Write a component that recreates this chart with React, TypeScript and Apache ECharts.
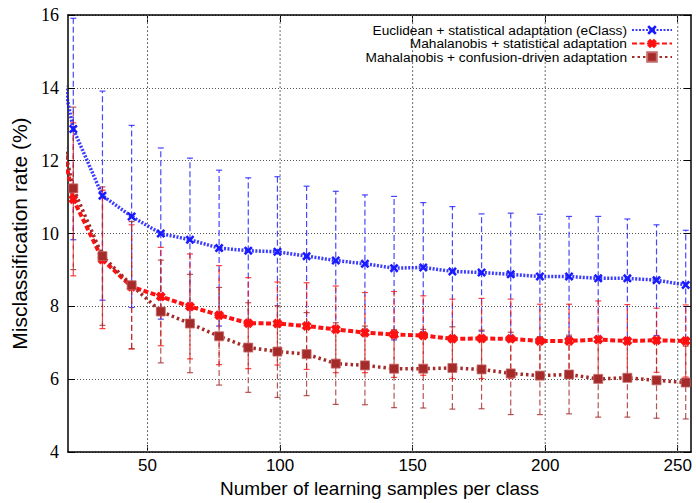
import React, { useEffect, useRef } from "react";
import * as echarts from "echarts";

// Number of learning samples per class (first point lies left of the visible range)
const samples = [11, 22, 33, 44, 55, 66, 77, 88, 99, 110, 121, 132, 143, 154, 165, 176, 187, 198, 209, 220, 231, 242, 253];
const xTicks = [50, 100, 150, 200, 250];
const yRange = [4, 16];

const seriesNames = [
  "Euclidean + statistical adaptation (eClass)",
  "Mahalanobis + statistical adaptation",
  "Mahalanobis + confusion-driven adaptation",
];

const euclidRate = [16.8, 12.87, 11.04, 10.47, 10.0, 9.83, 9.6, 9.53, 9.5, 9.38, 9.26, 9.17, 9.05, 9.07, 8.96, 8.93, 8.88, 8.82, 8.82, 8.77, 8.77, 8.72, 8.59];
const euclidStd = [null, 3.04, 2.87, 2.5, 2.35, 2.24, 2.14, 2.0, 2.06, 1.92, 1.9, 1.89, 1.97, 1.78, 1.78, 1.61, 1.68, 1.71, 1.65, 1.7, 1.63, 1.52, 1.5];

const mahaStatRate = [15.0, 10.94, 9.29, 8.54, 8.27, 8.0, 7.76, 7.54, 7.53, 7.46, 7.37, 7.28, 7.23, 7.2, 7.11, 7.12, 7.11, 7.05, 7.05, 7.09, 7.05, 7.07, 7.05];
const mahaStatStd = [null, 2.1, 1.9, 1.7, 1.35, 1.44, 1.36, 1.25, 1.14, 1.19, 1.19, 1.1, 1.18, 1.09, 1.09, 1.1, 1.09, 1.01, 1.01, 1.06, 1.0, 0.88, 0.99];

const mahaConfRate = [14.9, 11.24, 9.38, 8.58, 7.86, 7.53, 7.18, 6.87, 6.76, 6.69, 6.43, 6.38, 6.29, 6.29, 6.31, 6.27, 6.16, 6.1, 6.13, 6.01, 6.04, 5.97, 5.91];
const mahaConfStd = [null, 2.23, 1.9, 1.75, 1.41, 1.35, 1.34, 1.23, 1.26, 1.14, 1.12, 1.08, 1.07, 1.08, 1.13, 1.08, 1.13, 1.07, 1.08, 1.05, 1.08, 1.04, 1.0];

const BLUE = "#1a1aff";
const RED = "#ff1010";
const BROWN = "#a52a2a";

const X_SYMBOL = "path://M2,0 L5,3 L8,0 L10,2 L7,5 L10,8 L8,10 L5,7 L2,10 L0,8 L3,5 L0,2 Z";
const FAT_X_SYMBOL = "path://M3,0 L5,2 L7,0 L10,3 L8,5 L10,7 L7,10 L5,8 L3,10 L0,7 L2,5 L0,3 Z";

const SANS = "'Liberation Sans', Arial, Helvetica, sans-serif";
const SERIF = "'Liberation Serif', 'Times New Roman', serif";

function errData(rates: number[], stds: (number | null)[]) {
  const out: number[][] = [];
  samples.forEach((x, i) => {
    const s = stds[i];
    if (s == null) return;
    out.push([x, rates[i] - s, rates[i] + s]);
  });
  return out;
}

function errSeries(rates: number[], stds: (number | null)[], color: string, dash: number[]) {
  return {
    type: "custom",
    clip: true,
    z: 2,
    silent: true,
    encode: { x: 0, y: [1, 2] },
    data: errData(rates, stds),
    renderItem: (params: any, api: any) => {
      const x = api.value(0);
      const lo = api.value(1);
      const hi = api.value(2);
      const a = api.coord([x, lo]);
      const b = api.coord([x, hi]);
      const style = { stroke: color, lineWidth: 1.2, lineDash: dash, opacity: 0.8, fill: null };
      const capStyle = { stroke: color, lineWidth: 1.2, opacity: 0.8, fill: null };
      return {
        type: "group",
        children: [
          { type: "line", shape: { x1: a[0], y1: a[1], x2: b[0], y2: b[1] }, style },
          { type: "line", shape: { x1: a[0] - 3, y1: a[1], x2: a[0] + 3, y2: a[1] }, style: capStyle },
          { type: "line", shape: { x1: b[0] - 3, y1: b[1], x2: b[0] + 3, y2: b[1] }, style: capStyle },
        ],
      };
    },
  };
}

function gridSeries() {
  return {
    type: "custom",
    clip: true,
    z: 2,
    silent: true,
    encode: { x: 0, y: [1, 2] },
    data: xTicks.map((v) => [v, yRange[0], yRange[1]]),
    renderItem: (params: any, api: any) => {
      const v = api.value(0);
      const a = api.coord([v, api.value(1)]);
      const b = api.coord([v, api.value(2)]);
      return {
        type: "group",
        children: [
          {
            type: "line",
            shape: { x1: a[0], y1: a[1], x2: b[0], y2: b[1] },
            style: { stroke: "#666666", lineWidth: 1, lineDash: [2, 2], opacity: 1, fill: null },
          },
        ],
      };
    },
  };
}

function legendFor(name: string, top: number) {
  return {
    data: [name],
    orient: "vertical",
    align: "right",
    right: 23,
    top,
    padding: 0,
    itemWidth: 40,
    itemHeight: 12,
    selectedMode: false,
    textStyle: { fontSize: 13.7, fontFamily: SANS, color: "#000" },
  };
}

export default function App() {
  const ref = useRef<HTMLDivElement>(null);

  useEffect(() => {
    const chart = echarts.init(ref.current!, null, { renderer: "svg" });
    const axisLine = { show: true, onZero: false, lineStyle: { color: "#000", width: 1.5 } };
    const tick = { show: true, inside: true, length: 7, lineStyle: { color: "#000", width: 1 } };
    const gridLine = { color: "#555", width: 1, type: [1, 2] as any };

    const option: any = {
      animation: false,
      backgroundColor: "#fff",
      grid: { left: 68, top: 15, right: 5, bottom: 47, containLabel: false },
      legend: [legendFor(seriesNames[0], 23), legendFor(seriesNames[1], 36.5), legendFor(seriesNames[2], 50)],
      xAxis: [
        {
          type: "value",
          min: 20,
          max: 255,
          position: "bottom",
          axisLine,
          axisTick: { ...tick, customValues: xTicks },
          axisLabel: { customValues: xTicks, fontSize: 17, fontFamily: SANS, color: "#000", margin: 5 },
          splitLine: { show: false },
          name: "Number of learning samples per class",
          nameLocation: "middle",
          nameGap: 24,
          nameTextStyle: { fontSize: 19, fontFamily: SANS, color: "#000" },
        },
        {
          type: "value",
          min: 20,
          max: 255,
          position: "top",
          axisLine,
          axisTick: { ...tick, customValues: xTicks },
          axisLabel: { show: false, customValues: xTicks },
          splitLine: { show: false },
        },
      ],
      yAxis: [
        {
          type: "value",
          min: yRange[0],
          max: yRange[1],
          interval: 2,
          position: "left",
          axisLine,
          axisTick: tick,
          axisLabel: { fontSize: 18, fontFamily: SERIF, color: "#000", margin: 9 },
          splitLine: { show: true, lineStyle: gridLine },
          name: "Misclassification rate (%)",
          nameLocation: "middle",
          nameGap: 37,
          nameTextStyle: { fontSize: 21, fontFamily: SANS, color: "#000" },
        },
        {
          type: "value",
          min: yRange[0],
          max: yRange[1],
          interval: 2,
          position: "right",
          axisLine,
          axisTick: tick,
          axisLabel: { show: false },
          splitLine: { show: false },
        },
      ],
      series: [
        errSeries(euclidRate, euclidStd, BLUE, [6, 3]),
        gridSeries(),
        {
          type: "line",
          name: seriesNames[0],
          data: samples.map((x, i) => [x, euclidRate[i]]),
          z: 3,
          clip: true,
          symbol: X_SYMBOL,
          symbolSize: 9,
          showAllSymbol: true,
          itemStyle: { color: BLUE },
          lineStyle: { color: BLUE, width: 3.5, type: [2, 1.5], opacity: 0.85 },
        },
        errSeries(mahaStatRate, mahaStatStd, RED, [6, 3]),
        {
          type: "line",
          name: seriesNames[1],
          data: samples.map((x, i) => [x, mahaStatRate[i]]),
          z: 4,
          clip: true,
          symbol: FAT_X_SYMBOL,
          symbolSize: 10,
          showAllSymbol: true,
          itemStyle: { color: RED },
          lineStyle: { color: RED, width: 4, type: [5, 2.5] },
        },
        errSeries(mahaConfRate, mahaConfStd, BROWN, [6, 3]),
        {
          type: "line",
          name: seriesNames[2],
          data: samples.map((x, i) => [x, mahaConfRate[i]]),
          z: 5,
          clip: true,
          symbol: "rect",
          symbolSize: 9,
          showAllSymbol: true,
          itemStyle: { color: BROWN, borderColor: "#c46a6a", borderWidth: 0.8 },
          lineStyle: { color: BROWN, width: 3.5, type: [2.5, 3] },
        },
      ],
    };

    chart.setOption(option);
    return () => chart.dispose();
  }, []);

  return (
    <div
      ref={ref}
      style={{ position: "fixed", left: 0, top: 0, width: 696, height: 503, background: "#fff" }}
    />
  );
}
